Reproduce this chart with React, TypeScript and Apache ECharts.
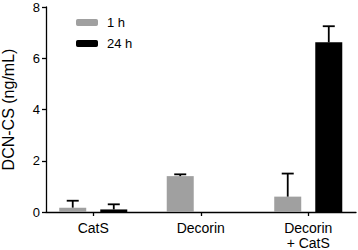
import React, { useEffect, useRef } from "react";
import * as echarts from "echarts";

const categories = ["CatS", "Decorin", "Decorin\n+ CatS"];
const seriesNames = ["1 h", "24 h"];
const mean1h = [0.17, 1.4, 0.6];
const upper1h = [0.44, 1.47, 1.5];
const mean24h = [0.1, 0, 6.62];
const upper24h = [0.3, 0, 7.25];
const yTicks = { min: 0, max: 8, interval: 2 };

const BAR_W = 27;
const BAR_GAP = 0.52;
const FONT = "'Liberation Sans', Arial, Helvetica, sans-serif";

export default function App() {
  const ref = useRef<HTMLDivElement>(null);
  useEffect(() => {
    if (!ref.current) return;
    const chart = echarts.init(ref.current, null, { renderer: "svg" });
    const errData: number[][] = [];
    categories.forEach((_, i) => {
      if (upper1h[i] > mean1h[i]) errData.push([i, mean1h[i], upper1h[i], 0]);
      if (upper24h[i] > mean24h[i]) errData.push([i, mean24h[i], upper24h[i], 1]);
    });
    const off = (BAR_W * (1 + BAR_GAP)) / 2;
    chart.setOption({
      animation: false,
      textStyle: { fontFamily: FONT },
      legend: {
        data: seriesNames,
        orient: "vertical",
        left: 71,
        top: 11,
        itemWidth: 22,
        itemHeight: 7,
        itemGap: 8,
        textStyle: { fontSize: 13, color: "#000", fontFamily: FONT, padding: [0, 0, 0, 4] },
      },
      grid: [
        { left: 46, right: 2, top: 7, bottom: 38, containLabel: false, outerBoundsMode: "none" },
        { left: 39.5, width: 322.5, top: 7, bottom: 38, containLabel: false, outerBoundsMode: "none" },
      ],
      xAxis: [
        {
          gridIndex: 0,
          type: "value",
          min: 0,
          max: 1,
          axisLine: { show: true, lineStyle: { color: "#000", width: 1.3 } },
          axisTick: { show: false },
          axisLabel: { show: false },
          splitLine: { show: false },
        },
        {
          gridIndex: 1,
          type: "category",
          data: categories,
          axisLine: { show: false },
          axisTick: { show: true, alignWithLabel: true, length: 4, lineStyle: { color: "#000", width: 1.3 } },
          axisLabel: { color: "#000", fontSize: 14, fontFamily: FONT, margin: 8, lineHeight: 15 },
        },
      ],
      yAxis: [
        {
          gridIndex: 0,
          type: "value",
          min: yTicks.min,
          max: yTicks.max,
          interval: yTicks.interval,
          name: "DCN-CS (ng/mL)",
          nameLocation: "middle",
          nameGap: 30,
          nameTextStyle: { fontSize: 16, color: "#000", fontFamily: FONT },
          axisLine: { show: true, lineStyle: { color: "#000", width: 1.3 } },
          axisTick: { show: true, length: 4, lineStyle: { color: "#000", width: 1.3 } },
          axisLabel: { color: "#000", fontSize: 13, fontFamily: FONT, margin: 6 },
          splitLine: { show: false },
        },
        {
          gridIndex: 1,
          type: "value",
          min: yTicks.min,
          max: yTicks.max,
          show: false,
        },
      ],
      series: [
        {
          name: seriesNames[0],
          type: "bar",
          xAxisIndex: 1,
          yAxisIndex: 1,
          data: mean1h,
          barWidth: BAR_W,
          barGap: BAR_GAP * 100 + "%",
          itemStyle: { color: "#a0a0a0" },
        },
        {
          name: seriesNames[1],
          type: "bar",
          xAxisIndex: 1,
          yAxisIndex: 1,
          data: mean24h,
          barWidth: BAR_W,
          barGap: BAR_GAP * 100 + "%",
          itemStyle: { color: "#000" },
        },
        {
          type: "custom",
          xAxisIndex: 1,
          yAxisIndex: 1,
          data: errData,
          z: 5,
          renderItem: (params: any, api: any) => {
            const cat = api.value(0);
            const lo = api.coord([cat, api.value(1)]);
            const hi = api.coord([cat, api.value(2)]);
            const s = api.value(3) === 0 ? -1 : 1;
            const x = lo[0] + s * off;
            const style = { stroke: "#000", lineWidth: 1.8 };
            return {
              type: "group",
              children: [
                { type: "line", shape: { x1: x, y1: lo[1], x2: x, y2: hi[1] }, style },
                { type: "line", shape: { x1: x - 6, y1: hi[1], x2: x + 6, y2: hi[1] }, style },
              ],
            };
          },
        },
      ],
    });
    return () => chart.dispose();
  }, []);
  return <div ref={ref} style={{ width: 358, height: 250, position: "absolute", left: 0, top: 0 }} />;
}
